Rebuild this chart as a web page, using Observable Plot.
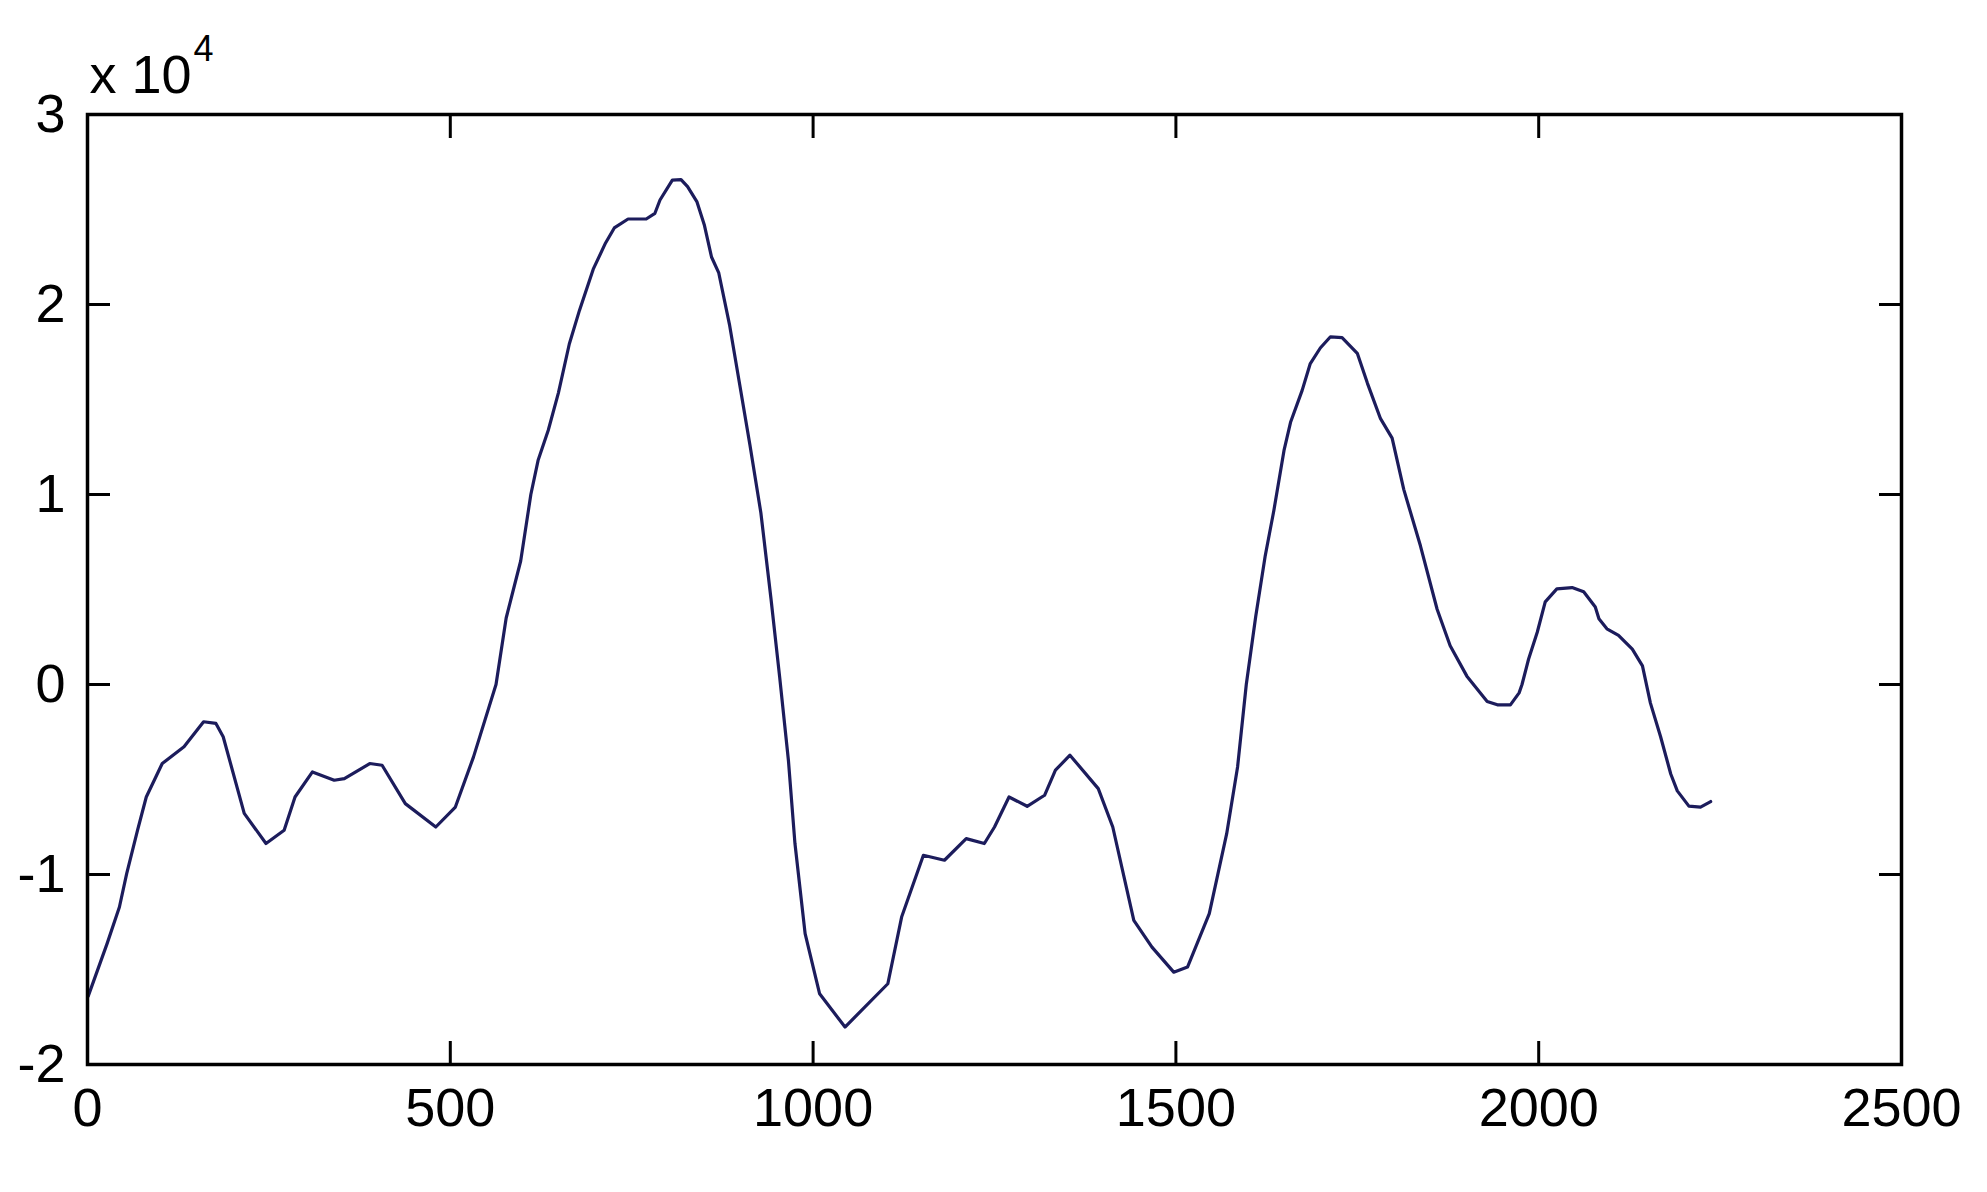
<!DOCTYPE html>
<html><head><meta charset="utf-8">
<script src="https://cdn.jsdelivr.net/npm/d3@7"></script>
<script src="https://cdn.jsdelivr.net/npm/@observablehq/plot@0.6"></script>
<style>html,body{margin:0;padding:0;background:#fff;} svg{display:block}</style>
</head><body><div id="chart"></div>
<script>
const xs = [1,27,44,54,69,81,103,133,160,177,187,216,246,271,286,310,340,354,389,406,438,480,507,532,563,577,597,611,621,635,649,664,678,697,714,726,745,770,782,789,806,818,827,840,850,860,870,885,899,913,928,942,954,966,975,989,1009,1044,1103,1122,1152,1181,1211,1236,1250,1270,1295,1319,1334,1354,1393,1413,1442,1467,1497,1516,1546,1570,1585,1597,1610,1623,1635,1649,1658,1674,1685,1699,1713,1729,1750,1764,1782,1798,1814,1837,1860,1878,1901,1929,1943,1961,1973,1977,1986,1998,2009,2025,2046,2062,2078,2083,2094,2110,2129,2143,2154,2168,2182,2191,2207,2223,2237];
const ys = [-16400,-13640,-11710,-9950,-7670,-5920,-4160,-3280,-1960,-2050,-2750,-6780,-8370,-7670,-5920,-4600,-5040,-4950,-4160,-4250,-6270,-7500,-6450,-3810,0,3500,6500,10000,11800,13380,15350,17920,19690,21860,23240,24030,24500,24500,24800,25500,26550,26570,26200,25400,24200,22500,21660,18900,15750,12590,9040,4500,360,-4000,-8370,-13110,-16280,-18030,-15750,-12240,-8990,-9250,-8110,-8370,-7500,-5920,-6410,-5830,-4510,-3720,-5480,-7500,-12410,-13820,-15140,-14870,-12060,-7850,-4340,0,3580,6750,9160,12320,13800,15480,16870,17710,18300,18260,17430,15850,13990,12970,10270,7300,3960,2040,440,-890,-1070,-1070,-440,0,1330,2750,4350,5030,5100,4880,4080,3460,2930,2580,1860,980,-980,-2750,-4710,-5600,-6400,-6450,-6160];
const xTicks = [0,500,1000,1500,2000,2500];
const yTicks = [-20000,-10000,0,10000,20000,30000];
const exponentBase = "x 10";
const exponent = "4";

const data = xs.map((x, i) => ({x, y: ys[i]}));
const font = "'Liberation Sans', Arial, sans-serif";
const tick = 23;

const chart = Plot.plot({
  width: 1987, height: 1192,
  marginLeft: 87, marginRight: 86, marginTop: 114, marginBottom: 128,
  style: {fontFamily: font, fontSize: "54px", background: "#fff", color: "#000", overflow: "visible"},
  x: {domain: [0, 2500]},
  y: {domain: [-20000, 30000]},
  marks: [
    Plot.line(data, {x: "x", y: "y", stroke: "#1c1c5c", strokeWidth: 3.2}),
    Plot.frame({stroke: "#000", strokeWidth: 3.5}),
    Plot.axisX(xTicks, {anchor: "bottom", tickSize: -tick, tickPadding: 46, strokeWidth: 3, fontSize: 54, tickFormat: d => String(d), label: null, fill: "#000"}),
    Plot.axisX(xTicks, {anchor: "top", tickSize: -tick, strokeWidth: 3, tickFormat: () => "", label: null}),
    Plot.axisY(yTicks, {anchor: "left", tickSize: -tick, tickPadding: 45, strokeWidth: 3, fontSize: 54, tickFormat: d => String(d / 1e4), label: null, fill: "#000"}),
    Plot.axisY(yTicks, {anchor: "right", tickSize: -tick, strokeWidth: 3, tickFormat: () => "", label: null}),
    Plot.text([exponentBase], {frameAnchor: "top-left", text: d => d, dx: 2, dy: -22, textAnchor: "start", lineAnchor: "bottom", fontSize: 54, fill: "#000"}),
    Plot.text([exponent], {frameAnchor: "top-left", text: d => d, dx: 106, dy: -54, textAnchor: "start", lineAnchor: "bottom", fontSize: 36, fill: "#000"})
  ]
});
document.getElementById("chart").appendChild(chart);
</script>
</body></html>
